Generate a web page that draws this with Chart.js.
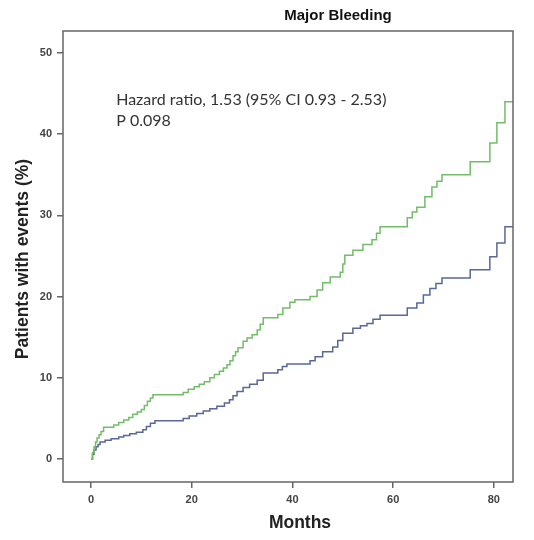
<!DOCTYPE html>
<html><head><meta charset="utf-8">
<script src="https://cdn.jsdelivr.net/npm/chart.js@4.4.1/dist/chart.umd.min.js"></script>
<style>html,body{margin:0;padding:0;background:#fff}#wrap{width:534px;height:540px;position:relative}</style>
</head><body><div id="wrap"><canvas id="c" width="534" height="540"></canvas></div>
<script>
const chartTitle = "Major Bleeding";
const xTitle = "Months";
const yTitle = "Patients with events (%)";
const noteLines = ["Hazard ratio, 1.53 (95% CI 0.93 - 2.53)", "P 0.098"];
const xTicks = [0, 20, 40, 60, 80];
const yTicks = [0, 10, 20, 30, 40, 50];

const greenMonths = [0,0.3,0.6,0.9,1.2,1.6,2.0,2.5,4.5,5.5,6.5,7.5,8.3,9.2,10.0,10.6,11.2,11.8,12.3,18.3,19.3,20.5,21.5,22.5,23.6,24.5,25.5,26.3,27.0,27.6,28.2,28.7,29.2,30.2,31.0,32.0,33.0,33.6,34.2,37.1,38.1,39.5,40.5,43.5,44.9,46.0,47.5,49.5,50.0,50.4,52.0,54.0,55.8,56.7,57.4,62.8,63.8,64.7,66.3,67.7,68.7,69.7,75.3,79.2,80.6,82.2,83.8];
const greenPct    = [0,0.8,1.5,2.1,2.6,3.0,3.4,3.9,4.2,4.5,4.8,5.1,5.5,5.8,6.1,6.6,7.1,7.5,7.9,8.2,8.6,8.9,9.2,9.5,10.0,10.4,10.8,11.2,11.6,12.1,12.7,13.2,13.7,14.5,14.9,15.3,15.9,16.6,17.4,17.8,18.6,19.3,19.6,20.0,20.8,21.7,22.4,23.0,24.0,25.1,25.7,26.4,27.0,27.8,28.6,29.7,30.4,31.0,32.3,33.5,34.2,35.0,36.6,38.9,41.4,44.0,44.0];

const blueMonths = [0,0.3,0.6,1.0,1.4,1.8,2.8,4.0,5.5,6.5,7.7,9.0,10.3,11.0,11.8,12.7,18.3,19.5,21.0,22.3,23.6,25.0,26.5,27.5,28.2,29.0,30.2,31.5,33.0,34.2,37.1,38.0,38.9,43.5,44.5,46.0,48.0,49.0,50.0,52.0,53.5,54.8,56.0,57.4,62.8,64.7,66.0,67.3,68.5,69.7,75.3,79.2,80.6,82.2,83.8];
const bluePct    = [0,0.6,1.1,1.5,1.8,2.1,2.3,2.5,2.7,2.9,3.1,3.3,3.6,4.0,4.4,4.7,5.0,5.3,5.6,5.9,6.2,6.5,6.9,7.3,7.8,8.3,8.8,9.2,9.7,10.6,11.0,11.4,11.7,12.1,12.6,13.2,13.8,14.6,15.5,16.1,16.4,16.7,17.2,17.7,18.6,19.2,20.2,21.0,21.6,22.3,23.3,24.9,26.6,28.6,28.6];

const toPts = (xs, ys) => xs.map((x, i) => ({x: x, y: ys[i]}));

const AXIS_COLOR = '#666666';
const TICK_FONT = {family: 'Liberation Sans', size: 11, weight: 'bold'};

const framePlugin = {
  id: 'frameAndText',
  afterDraw(chart) {
    const ctx = chart.ctx, a = chart.chartArea;
    ctx.save();
    ctx.strokeStyle = AXIS_COLOR;
    ctx.lineWidth = 1.5;
    ctx.strokeRect(a.left, a.top, a.right - a.left, a.bottom - a.top);
    // title
    ctx.fillStyle = '#111';
    ctx.font = 'bold 15px "Liberation Sans"';
    ctx.textAlign = 'center';
    ctx.textBaseline = 'middle';
    ctx.fillText(chartTitle, 338, 16);
    // axis titles
    ctx.fillStyle = '#222';
    ctx.font = 'bold 17.5px "Liberation Sans"';
    ctx.fillText(xTitle, 300, 523);
    ctx.save();
    ctx.translate(23, 259);
    ctx.rotate(-Math.PI / 2);
    ctx.fillText(yTitle, 0, 0);
    ctx.restore();
    // annotation
    const xs = chart.scales.x, ys = chart.scales.y;
    ctx.fillStyle = '#333';
    ctx.font = '16px Lato';
    ctx.textAlign = 'left';
    ctx.fillText(noteLines[0], xs.getPixelForValue(5.0), ys.getPixelForValue(44.2));
    ctx.fillText(noteLines[1], xs.getPixelForValue(5.0), ys.getPixelForValue(41.6));
    ctx.restore();
  }
};

new Chart(document.getElementById('c'), {
  type: 'line',
  data: {
    datasets: [
      {label: 'Green', data: toPts(greenMonths, greenPct), borderColor: '#72bd68', borderWidth: 1.5, stepped: 'before', pointRadius: 0, fill: false},
      {label: 'Blue', data: toPts(blueMonths, bluePct), borderColor: '#5a6799', borderWidth: 1.5, stepped: 'before', pointRadius: 0, fill: false}
    ]
  },
  options: {
    responsive: false,
    devicePixelRatio: 1,
    animation: false,
    layout: {padding: {top: 31, right: 21, left: 0, bottom: 0}},
    plugins: {legend: {display: false}, tooltip: {enabled: false}, title: {display: false}},
    scales: {
      x: {
        type: 'linear', min: -5.56, max: 83.8,
        afterBuildTicks: s => { s.ticks = xTicks.map(v => ({value: v})); },
        afterFit: s => { s.height = 58; },
        grid: {display: true, drawOnChartArea: false, drawTicks: true, tickLength: 6, color: AXIS_COLOR, lineWidth: 1.5},
        border: {display: false},
        ticks: {font: TICK_FONT, color: '#444', padding: 5, maxRotation: 0, autoSkip: false}
      },
      y: {
        type: 'linear', min: -2.83, max: 52.7,
        afterBuildTicks: s => { s.ticks = yTicks.map(v => ({value: v})); },
        afterFit: s => { s.width = 63; },
        grid: {display: true, drawOnChartArea: false, drawTicks: true, tickLength: 6, color: AXIS_COLOR, lineWidth: 1.5},
        border: {display: false},
        ticks: {font: TICK_FONT, color: '#444', padding: 5, autoSkip: false}
      }
    }
  },
  plugins: [framePlugin]
});
</script>
</body></html>
